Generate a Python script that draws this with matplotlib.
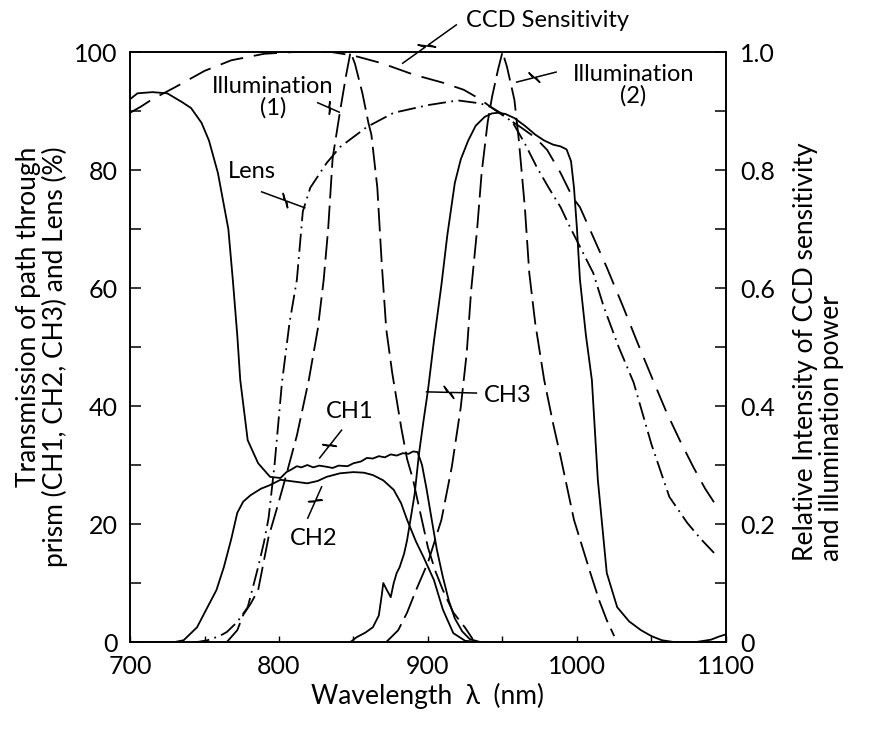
import numpy as np
import matplotlib
matplotlib.use("Agg")
import matplotlib.pyplot as plt

# transmission (%) of the prism paths
ch1_wl = [700, 705, 715, 725, 735, 741, 748, 753, 759, 766, 769, 772, 774, 779, 786, 794, 801,
          805, 808, 812, 815, 819, 823, 827, 832, 836, 840, 846, 850, 855, 859, 863, 867, 871,
          875, 879, 883, 887, 890, 893, 896, 899, 903, 906, 910, 914, 918, 923, 928, 935]
ch1_val = [92, 93, 93.2, 93, 91.5, 90.5, 88, 85, 79.5, 70, 61.4, 52, 44.4, 34.2, 30.3, 28, 27.8,
           28.8, 29.2, 29.8, 29.6, 30, 29.6, 29.9, 29.7, 29.5, 29.9, 29.8, 30.3, 30.6, 31.2, 31.1,
           31.5, 31.3, 31.8, 31.6, 32, 31.9, 32.3, 32.2, 30, 26, 20, 15.6, 11, 7, 4, 1.8, 0.5, 0]

ch2_wl = [700, 730, 736, 745, 752, 758, 763, 768, 772, 776, 781, 788, 794, 801, 810, 819, 826,
          832, 841, 850, 857, 863, 870, 877, 882, 886, 892, 897, 904, 910, 917, 925, 935]
ch2_val = [0, 0, 0.3, 2.5, 5.9, 8.8, 12.7, 17.5, 21.9, 23.8, 24.9, 26, 26.6, 27.5, 27.2, 26.9,
           27.3, 28, 28.6, 28.8, 28.7, 28.3, 27.4, 25.8, 23.5, 20.7, 17, 14.4, 10.5, 5.5, 1.5, 0.2, 0]

ch3_wl = [848, 852, 858, 863, 867, 869, 870, 872, 875, 877, 879, 881, 884, 886, 889, 891, 894,
          897, 900, 904, 909, 913, 918, 922, 927, 932, 938, 943, 947, 952, 958, 965, 972, 978,
          984, 989, 993, 996, 998, 1000, 1002, 1006, 1010, 1014, 1020, 1027, 1035, 1043, 1050,
          1057, 1065, 1080, 1090, 1095, 1100]
ch3_val = [0, 0.8, 1.6, 2.5, 4.5, 8, 10, 9, 7.6, 10, 11.7, 12.7, 15, 17.3, 21.9, 25, 32, 37.5,
           42.7, 51, 60.5, 69, 77.8, 81.8, 85, 87.5, 89, 89.6, 89.7, 89.5, 88.8, 87.5, 86, 85,
           84.3, 84, 83.5, 81.5, 77, 70, 61.4, 52, 44.4, 27.5, 11.7, 5.9, 3.5, 2, 1, 0.3, 0, 0,
           0.4, 0.9, 1.3]

# lens transmission (%)
lens_wl = [700, 745, 752, 760, 765, 772, 779, 786, 790, 793, 797, 802, 807, 812, 816, 821, 832,
           841, 859, 877, 900, 920, 935, 942, 950, 957, 965, 973, 981, 989, 995, 1002, 1011,
           1018, 1028, 1038, 1050, 1062, 1074, 1083, 1092]
lens_val = [0, 0, 0.3, 1, 1.7, 3.4, 5.9, 12.7, 17, 21, 30, 44, 54, 61.4, 73, 77, 81.2, 83.9,
            87.3, 89.7, 91, 91.8, 91.3, 90.7, 89.5, 88, 84.5, 80.5, 77, 73.7, 70.5, 67, 62.5,
            56.8, 50, 44, 33.5, 24.6, 20.2, 17.5, 15.1]

# relative intensity (0-1)
ccd_wl = [700, 707, 715, 730, 750, 768, 790, 810, 835, 850, 869, 890, 910, 924, 935, 942, 950,
          962, 972, 980, 989, 997, 1002, 1011, 1020, 1031, 1041, 1051, 1060, 1069, 1078, 1086, 1094]
ccd_val = [0.897, 0.907, 0.92, 0.94, 0.968, 0.986, 0.997, 1.0, 1.0, 0.994, 0.981, 0.962, 0.948,
           0.936, 0.92, 0.907, 0.893, 0.873, 0.855, 0.834, 0.795, 0.754, 0.737, 0.686, 0.635,
           0.568, 0.505, 0.444, 0.39, 0.342, 0.297, 0.26, 0.229]

illum1_wl = [765, 772, 776, 781, 786, 793, 799, 804, 812, 820, 826, 830, 833, 836, 841, 845, 848,
             851, 856, 860, 862, 866, 869, 872, 876, 882, 886, 890, 893, 900, 905, 910, 917, 925, 930]
illum1_val = [0, 0.02, 0.046, 0.065, 0.088, 0.178, 0.23, 0.275, 0.35, 0.444, 0.53, 0.614, 0.70,
              0.82, 0.90, 0.96, 1.0, 0.98, 0.93, 0.88, 0.86, 0.77, 0.64, 0.53, 0.456, 0.364,
              0.31, 0.275, 0.24, 0.16, 0.12, 0.088, 0.05, 0.024, 0.005]

illum2_wl = [872, 880, 886, 892, 900, 909, 916, 922, 926, 929, 933, 936, 940, 943, 947, 950, 953,
             958, 961, 965, 968, 972, 978, 984, 989, 998, 1009, 1015, 1020, 1025]
illum2_val = [0, 0.02, 0.05, 0.088, 0.135, 0.207, 0.297, 0.398, 0.49, 0.597, 0.70, 0.795, 0.88,
              0.924, 0.97, 1.0, 0.975, 0.919, 0.85, 0.737, 0.625, 0.54, 0.444, 0.37, 0.314,
              0.207, 0.117, 0.07, 0.037, 0.01]

plt.rcParams['font.family'] = ['Lato', 'DejaVu Sans']

fig = plt.figure(figsize=(8.85, 7.4), dpi=100)
ax = fig.add_axes([0.1469, 0.1324, 0.6734, 0.7973])
ax2 = ax.twinx()

lw = 1.3
ax.plot(ch1_wl, ch1_val, color='k', lw=lw)
ax.plot(ch2_wl, ch2_val, color='k', lw=lw)
ax.plot(ch3_wl, ch3_val, color='k', lw=lw)
ax.plot(lens_wl, lens_val, color='k', lw=lw, linestyle=(0, (10, 3, 1, 3)))
ax2.plot(ccd_wl, ccd_val, color='k', lw=lw, linestyle=(0, (13, 6)))
ax2.plot(illum1_wl, illum1_val, color='k', lw=lw, linestyle=(0, (13, 4)))
ax2.plot(illum2_wl, illum2_val, color='k', lw=lw, linestyle=(0, (13, 4)))

ax.set_xlim(700, 1100)
ax.set_ylim(0, 100)
ax2.set_ylim(0, 1)

ax.set_xticks([700, 800, 900, 1000, 1100])
ax.set_xticks(np.arange(750, 1100, 50), minor=True)
ax.set_yticks(np.arange(0, 101, 20))
ax.set_yticks(np.arange(10, 100, 20), minor=True)
ax2.set_yticks(np.arange(0, 1.01, 0.2))
ax2.set_yticklabels(['0', '0.2', '0.4', '0.6', '0.8', '1.0'])
ax2.set_yticks(np.arange(0.1, 1.0, 0.2), minor=True)

ax.tick_params(axis='x', which='both', direction='in', length=4, width=1, top=False,
               labelsize=18, pad=9)
ax.tick_params(axis='y', which='both', direction='in', length=8, width=1.1,
               labelsize=18, pad=9)
ax2.tick_params(axis='y', which='both', direction='in', length=8, width=1.1,
                labelsize=18, pad=10)
for a in (ax, ax2):
    for s in a.spines.values():
        s.set_linewidth(1.2)

ax.set_xlabel('Wavelength  λ  (nm)', fontsize=19, labelpad=4)
fig.text(0.047, 0.518, 'Transmission of path through\nprism (CH1, CH2, CH3) and Lens (%)',
         rotation=90, ha='center', va='center', multialignment='right', fontsize=19,
         linespacing=1.05)
fig.text(0.925, 0.525, 'Relative Intensity of CCD sensitivity\nand illumination power',
         rotation=90, ha='center', va='center', multialignment='left', fontsize=19,
         linespacing=1.05)


def leader(p0, p1, frac=0.55, amp=6):
    # straight leader with a small lightning zigzag, drawn in pixel space
    a, b = ax.transData.transform([p0, p1])
    d = b - a
    n = np.array([-d[1], d[0]]) / np.hypot(*d)
    m1 = a + d * (frac - 0.1) + n * amp
    m2 = a + d * (frac + 0.1) - n * amp
    pts = ax.transData.inverted().transform([a, a + d * (frac - 0.03), m1, m2,
                                             a + d * (frac + 0.03), b])
    ax.plot(pts[:, 0], pts[:, 1], color='k', lw=1.1, clip_on=False)


ann = dict(fontsize=17, color='k')
ax.text(925.8, 105.4, 'CCD Sensitivity', ha='left', va='center', clip_on=False, **ann)
leader((919, 104.6), (883, 98.1))
ax.text(796, 92.3, 'Illumination\n(1)', ha='center', va='center', linespacing=1.0, **ann)
leader((826, 91.4), (840.5, 89.8))
ax.text(1038, 94.4, 'Illumination\n(2)', ha='center', va='center', linespacing=1.0, **ann)
leader((986, 96.6), (959.5, 94.9))
ax.text(781.7, 79.7, 'Lens', ha='center', va='center', **ann)
leader((788.4, 76.3), (817.3, 73.6))
ax.text(847.4, 39, 'CH1', ha='center', va='center', **ann)
leader((842, 35.9), (827.3, 31.2))
ax.text(823.3, 17.6, 'CH2', ha='center', va='center', **ann)
leader((819.3, 21), (828.6, 26.3))
ax.text(953.3, 41.7, 'CH3', ha='center', va='center', **ann)
leader((932.5, 42.2), (899, 42.4))

fig.savefig('out.png', dpi=100)
